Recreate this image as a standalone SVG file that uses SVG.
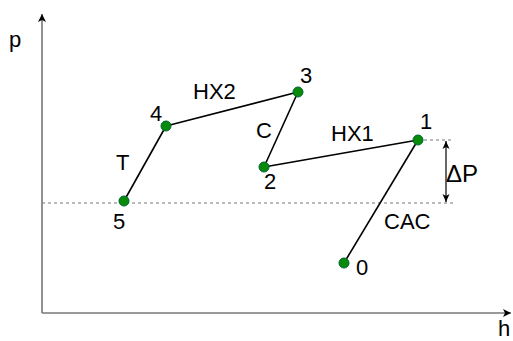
<svg xmlns="http://www.w3.org/2000/svg" width="513" height="341" viewBox="0 0 513 341">
<style>
text{font-family:"Liberation Sans",Arial,sans-serif;font-size:22px;fill:#000}
.axis{stroke:#777;stroke-width:1.6;fill:none}
.dash{stroke:#777;stroke-width:1;stroke-dasharray:3,3;fill:none}
.proc{stroke:#000;stroke-width:1.6;fill:none}
.pt{fill:#0a8a0a;stroke:#063;stroke-width:1}
</style>
<defs>
<marker id="ah" markerWidth="10" markerHeight="10" refX="8" refY="5" orient="auto" markerUnits="userSpaceOnUse">
<path d="M0,1 L8,5 L0,9 L2,5 Z" fill="#000"/>
</marker>
<marker id="as" markerWidth="10" markerHeight="10" refX="8" refY="5" orient="auto-start-reverse" markerUnits="userSpaceOnUse">
<path d="M0,1.5 L8,5 L0,8.5 L2,5 Z" fill="#000"/>
</marker>
</defs>
<g id="axes">
<line class="axis" x1="42" y1="313" x2="42" y2="14" marker-end="url(#ah)"/>
<line class="axis" x1="42" y1="313" x2="511" y2="313" marker-end="url(#ah)"/>
<text x="9" y="47">p</text>
<text x="498" y="336">h</text>
</g>
<g id="connectors">
<line class="dash" x1="42" y1="203" x2="453" y2="203"/>
<line class="dash" x1="418" y1="140" x2="453" y2="140"/>
<line x1="446" y1="141" x2="446" y2="202" stroke="#000" stroke-width="1.2" marker-start="url(#as)" marker-end="url(#as)"/>
<line class="proc" x1="344" y1="263" x2="418" y2="140"/>
<line class="proc" x1="418" y1="140" x2="264" y2="167"/>
<line class="proc" x1="264" y1="167" x2="298" y2="92"/>
<line class="proc" x1="298" y1="92" x2="166" y2="126"/>
<line class="proc" x1="166" y1="126" x2="124" y2="201"/>
<text x="193" y="99">HX2</text>
<text x="256" y="138">C</text>
<text x="331" y="141">HX1</text>
<text x="384" y="229">CAC</text>
<text x="116" y="170">T</text>
<text x="446" y="182" style="font-size:24px">ΔP</text>
</g>
<g id="p0"><circle class="pt" cx="344" cy="263" r="5"/><text x="356" y="275">0</text></g>
<g id="p1"><circle class="pt" cx="418" cy="140" r="5"/><text x="420" y="129">1</text></g>
<g id="p2"><circle class="pt" cx="264" cy="167" r="5"/><text x="264" y="189">2</text></g>
<g id="p3"><circle class="pt" cx="298" cy="92" r="5"/><text x="300" y="83">3</text></g>
<g id="p4"><circle class="pt" cx="166" cy="126" r="5"/><text x="150" y="121">4</text></g>
<g id="p5"><circle class="pt" cx="124" cy="201" r="5"/><text x="113" y="229">5</text></g>
</svg>
